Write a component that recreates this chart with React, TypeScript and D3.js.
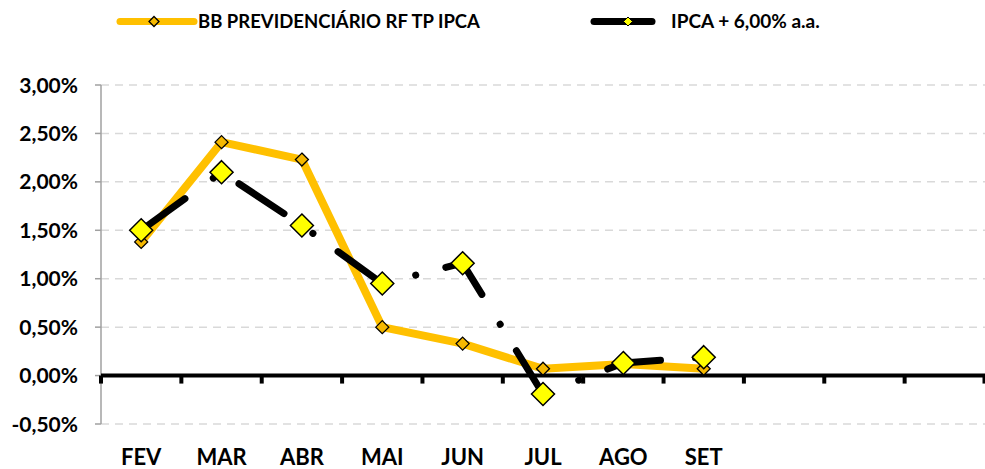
import React from "react";
import * as d3 from "d3";

const months = ["FEV", "MAR", "ABR", "MAI", "JUN", "JUL", "AGO", "SET", "OUT", "NOV", "DEZ"];
const monthLabels = ["FEV", "MAR", "ABR", "MAI", "JUN", "JUL", "AGO", "SET", "", "", ""];
const fundValues = [1.38, 2.41, 2.23, 0.5, 0.33, 0.07, 0.12, 0.07];
const benchValues = [1.5, 2.1, 1.55, 0.95, 1.16, -0.19, 0.13, 0.19];
const yTicks = [-0.5, 0, 0.5, 1.0, 1.5, 2.0, 2.5, 3.0];
const seriesNames = ["BB PREVIDENCIÁRIO RF TP IPCA", "IPCA + 6,00% a.a."];

const W = 985;
const H = 469;
const FONT = "Lato, 'Open Sans', sans-serif";

const x = d3.scaleBand<string>().domain(months).range([101, 985]).padding(0);
const y = d3.scaleLinear().domain([-0.5, 3.0]).range([424, 85]);
const cx = (i: number) => (x(months[i]) as number) + x.bandwidth() / 2;

const fmt = (v: number) => v.toFixed(2).replace(".", ",") + "%";

const diamond = (cxv: number, cyv: number, r: number) =>
  `M${cxv},${cyv - r}L${cxv + r},${cyv}L${cxv},${cyv + r}L${cxv - r},${cyv}Z`;

export default function App() {
  const line = d3
    .line<number>()
    .x((_, i) => cx(i))
    .y((d) => y(d));

  return (
    <svg
      width={W}
      height={H}
      style={{ position: "absolute", left: 0, top: 0, background: "#fff" }}
      fontFamily={FONT}
    >
      {/* gridlines */}
      {yTicks
        .filter((t) => t !== 0)
        .map((t) => (
          <line
            key={"g" + t}
            x1={101}
            x2={985}
            y1={y(t)}
            y2={y(t)}
            stroke="#D9D9D9"
            strokeWidth={1.5}
            strokeDasharray="8 6"
          />
        ))}
      {/* y axis */}
      <line x1={101} x2={101} y1={y(3.0)} y2={y(-0.5)} stroke="#A0A0A0" strokeWidth={1.5} />
      {yTicks.map((t) => (
        <g key={"yt" + t}>
          <line x1={95} x2={101} y1={y(t)} y2={y(t)} stroke="#A0A0A0" strokeWidth={1.5} />
          <text
            x={78}
            y={y(t) + 7.5}
            textAnchor="end"
            fontSize={21}
            fontWeight="bold"
            fill="#000"
          >
            {fmt(t)}
          </text>
        </g>
      ))}
      {/* zero axis */}
      <line x1={101} x2={985} y1={y(0)} y2={y(0)} stroke="#000" strokeWidth={4} />
      {months.map((m) => (
        <line
          key={"xt" + m}
          x1={x(m) as number}
          x2={x(m) as number}
          y1={y(0)}
          y2={y(0) + 8}
          stroke="#000"
          strokeWidth={4}
        />
      ))}
      <line x1={984} x2={984} y1={y(0)} y2={y(0) + 8} stroke="#000" strokeWidth={3} />
      {monthLabels.map((m, i) =>
        m ? (
          <text
            key={"xl" + m}
            x={cx(i)}
            y={465}
            textAnchor="middle"
            fontSize={22}
            fontWeight="bold"
            fill="#000"
          >
            {m}
          </text>
        ) : null
      )}

      {/* series 1 */}
      <path d={line(fundValues) || ""} fill="none" stroke="#FFC000" strokeWidth={8} strokeLinejoin="round" />
      {fundValues.map((v, i) => (
        <path key={"m1" + i} d={diamond(cx(i), y(v), 6.5)} fill="#F5B800" stroke="#000" strokeWidth={1.3} />
      ))}

      {/* series 2 */}
      <path
        d={line(benchValues) || ""}
        fill="none"
        stroke="#000"
        strokeWidth={7}
        strokeLinecap="round"
        strokeLinejoin="round"
        strokeDasharray="54 35 0.1 31"
      />
      {benchValues.map((v, i) => (
        <path key={"m2" + i} d={diamond(cx(i), y(v), 11.5)} fill="#FFFF00" stroke="#000" strokeWidth={1.5} />
      ))}

      {/* legend */}
      <line x1={120} x2={194} y1={21.5} y2={21.5} stroke="#FFC000" strokeWidth={7} strokeLinecap="round" />
      <path d={diamond(154, 21.5, 5)} fill="#F5B800" stroke="#000" strokeWidth={1.3} />
      <text x={198} y={28} fontSize={18.5} fontWeight="bold" fill="#000">
        {seriesNames[0]}
      </text>
      <line x1={594} x2={652} y1={21.5} y2={21.5} stroke="#000" strokeWidth={7} strokeLinecap="round" />
      <path d={diamond(628, 21.5, 4.5)} fill="#FFFF00" stroke="#000" strokeWidth={1} />
      <text x={671} y={28} fontSize={19} fontWeight="bold" fill="#000">
        {seriesNames[1]}
      </text>
    </svg>
  );
}
